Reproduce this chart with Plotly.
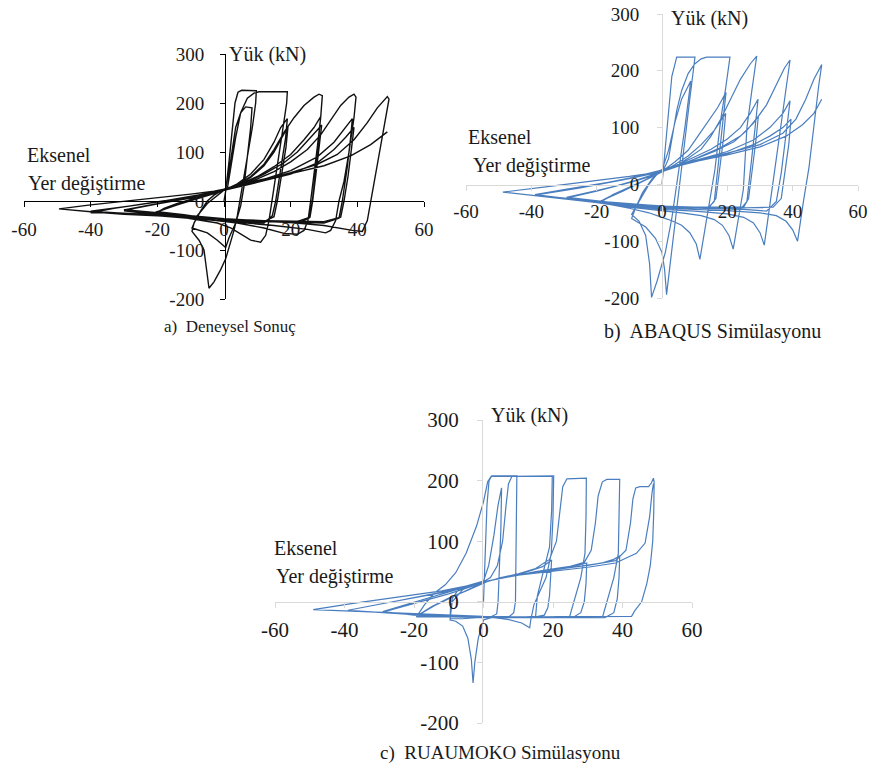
import plotly.graph_objects as go

# ---------------- data (displacement mm, load kN) ----------------
tick_x_vals = [-60, -40, -20, 0, 20, 40, 60]
tick_x_text = ["-60", "-40", "-20", "0", "20", "40", "60"]
tick_y_vals = [-200, -100, 0, 100, 200, 300]
tick_y_text = ["-200", "-100", "0", "100", "200", "300"]

# a) Experimental
exp_10 = [(0,0),(0.5,20),(1.5,80),(2.5,150),(3.3,200),(4.2,222),(5.3,226),(9.7,225),(9.5,200),(8.5,150),(7.3,100),(6,50),(4.8,0),(4,-30),(3,-60),(1.5,-95),(0.5,-118),(-1,-140),(-3,-165),(-4.5,-178),(-5.2,-140),(-6,-100),(-7.5,-80),(-9.6,-62),(-9,-45),(-7,-20),(-5,0),(-3,12),(-1,20),(0.5,26),(1.5,60),(2.5,110),(3.5,150),(5,180),(6.5,192),(8.4,190),(8,150),(7,90),(6,30),(5,-10),(3.5,-45),(1.5,-75),(0.5,-95),(-2,-80),(-5,-65),(-9.6,-55),(-8,-30),(-5,-5),(-2,12),(0,22)]
exp_20 = [(1,25),(2,70),(3.5,130),(5,180),(7,210),(9,220),(10.5,223),(19,223),(18.8,200),(17.5,140),(16,70),(14.5,0),(13.5,-40),(12.5,-70),(11,-84),(8,-80),(5,-68),(2,-55),(-2,-45),(-8,-38),(-14,-32),(-20.5,-25),(-18,-15),(-14,-5),(-10,3),(-5,12),(-1,20),(1,25),(4,35),(8,55),(12,85),(15,120),(17,150),(19,168),(18.5,130),(17,60),(15.5,0),(14.5,-30),(12,-45),(5,-42),(-5,-35),(-12,-28),(-20,-22),(-15,-10),(-8,5),(-2,18),(0,24),(4,33),(8,48),(12,72),(15,100),(17.5,130),(19.2,152),(18.6,110),(17.3,50),(16,0),(15,-32),(12,-42),(4,-40),(-6,-34),(-13,-28),(-20.5,-23),(-14,-8),(-7,6),(-2,17),(0,23)]
exp_30 = [(3,30),(8,50),(12,75),(15,105),(18,140),(21,170),(24,195),(27,212),(28.5,218),(29.5,215),(29,170),(28,110),(27,50),(26,0),(25.2,-40),(24,-60),(22,-68),(18,-66),(12,-55),(4,-45),(-5,-38),(-15,-30),(-25,-24),(-30,-20),(-25,-12),(-18,-4),(-10,6),(-4,15),(0,23),(5,35),(10,50),(15,70),(20,95),(24,125),(27,150),(29,172),(28.5,130),(27.5,60),(26.5,0),(25.5,-35),(22,-45),(10,-40),(0,-36),(-10,-30),(-20,-24),(-30,-18),(-22,-8),(-12,4),(-4,15),(0,23),(6,36),(12,55),(18,78),(22,100),(25.5,125),(28,145),(29.3,155),(28.6,110),(27.5,50),(26.6,0),(25.8,-33),(21,-44),(8,-40),(-5,-34),(-18,-25),(-30,-19),(-20,-6),(-10,6),(-3,16),(0,23)]
exp_40 = [(5,32),(10,45),(15,60),(20,80),(25,105),(29,135),(32,165),(35,195),(37.5,212),(39,218),(39.6,212),(39,170),(37.5,100),(36,40),(34.5,0),(33.5,-40),(32,-60),(30.5,-65),(25,-58),(15,-50),(5,-44),(-5,-38),(-15,-32),(-25,-27),(-35,-24),(-40,-24),(-33,-15),(-25,-7),(-15,3),(-7,12),(0,23),(10,40),(20,62),(28,90),(33,120),(36,145),(38.5,168),(38,130),(37,70),(35.5,0),(34.5,-35),(30,-45),(15,-42),(0,-37),(-15,-30),(-30,-25),(-40,-22),(-30,-12),(-18,0),(-8,12),(0,22),(10,38),(20,55),(28,78),(33,105),(36.5,130),(39,150),(38.3,110),(37.2,50),(36,0),(35,-33),(30,-42),(12,-40),(-5,-36),(-20,-29),(-40,-21),(-28,-10),(-15,3),(-6,13),(0,22)]
exp_50 = [(10,40),(20,58),(28,75),(34,95),(39,125),(43,160),(46,190),(48,206),(49,213),(49.5,208),(48.5,170),(47,110),(45.5,50),(44,0),(43,-40),(41.5,-62),(38.5,-60),(30,-50),(20,-44),(10,-41),(0,-38),(-10,-34),(-20,-30),(-30,-27),(-40,-22),(-49.5,-16),(-40,-8),(-30,-1),(-20,6),(-10,14),(-3,20),(0,24),(10,42),(20,56),(30,72),(38,92),(44,115),(49,141)]

# b) ABAQUS
abq_10 = [(0,0),(1,60),(2,130),(3,190),(4.5,224),(10.1,224),(8.5,150),(7,80),(5.5,0),(4,-70),(2.5,-140),(1.4,-194),(0.8,-150),(0,-120),(-2,-95),(-5,-75),(-9.3,-60),(-8,-40),(-6,-15),(-3,10),(0,25),(2,60),(4,110),(6,150),(8.8,182),(7,100),(5,20),(3,-60),(1,-120),(-1.5,-170),(-3.2,-199),(-3.8,-140),(-5,-90),(-7,-65),(-9.3,-53),(-7,-30),(-4,0),(-1.5,18),(0.5,26)]
abq_20 = [(2,45),(3,80),(4.5,130),(6,165),(8,195),(10,212),(12,221),(13.7,224),(20.8,224),(19.5,170),(18,115),(16.2,26),(14,-50),(11.6,-132),(10.5,-105),(8.5,-85),(6,-72),(3,-64),(0,-58),(-4,-50),(-10,-42),(-15,-36),(-19,-32),(-15,-18),(-10,-5),(-5,8),(-1,20),(1,27),(4,40),(8,60),(11,85),(14,110),(17,135),(19.6,162),(18.5,100),(17,20),(16,-30),(14,-42),(8,-42),(0,-40),(-10,-35),(-19,-30),(-14,-15),(-8,0),(-3,14),(0,22),(4,35),(8,50),(12,70),(16,95),(19.5,125),(18.8,80),(17.5,20),(16.5,-25),(14.5,-40),(5,-40),(-5,-36),(-19,-30),(-12,-12),(-5,8),(0,22)]
abq_30 = [(4,32),(8,46),(12,62),(15,85),(18,115),(21,150),(24,185),(27,212),(29,226),(27.5,165),(26,100),(24.9,-9),(23.5,-60),(21.8,-114),(20.5,-90),(18.5,-72),(16,-62),(12,-55),(6,-50),(0,-46),(-10,-40),(-20,-32),(-29.2,-23),(-20,-11),(-12,0),(-5,12),(0,25),(5,35),(10,48),(15,62),(20,80),(24,100),(27,125),(29.4,150),(28.5,100),(27,20),(26,-30),(24,-44),(15,-43),(0,-40),(-15,-34),(-29,-24),(-20,-12),(-10,3),(-3,15),(0,23),(8,40),(16,58),(22,75),(26,95),(29.5,120),(28.8,80),(27.5,20),(26.5,-25),(25,-40),(10,-40),(0,-38),(-15,-32),(-29,-23),(-18,-9),(-8,7),(0,23)]
abq_40 = [(5,32),(12,50),(18,65),(24,85),(28,108),(32,140),(35,175),(37.5,205),(39.2,219),(37.8,160),(36.2,90),(34.5,20),(33,-45),(31.3,-107),(30,-85),(28,-68),(25,-58),(20,-52),(10,-47),(0,-44),(-10,-38),(-25,-28),(-38.9,-18),(-30,-9),(-20,0),(-10,10),(-3,19),(0.5,27),(10,42),(20,58),(28,78),(33,100),(37,125),(39.2,147),(38,90),(36.5,20),(35,-30),(32,-47),(25,-44),(10,-42),(0,-40),(-20,-30),(-38.9,-19),(-25,-6),(-12,8),(-3,19),(0.5,26),(10,40),(20,54),(28,70),(33,85),(37,100),(39.5,115),(38.8,70),(37.5,15),(36.5,-25),(34,-40),(20,-42),(0,-40),(-20,-30),(-38.9,-19),(-25,-6),(-12,8),(0.5,26)]
abq_50 = [(10,42),(20,55),(30,70),(37,90),(41,115),(44,150),(46.5,185),(48,203),(48.9,211),(48,175),(46.5,100),(45,30),(43.3,-30),(41.5,-100),(40,-80),(38,-65),(35,-55),(30,-50),(20,-46),(10,-44),(0,-42),(-15,-35),(-30,-25),(-48.7,-13.6),(-35,-4),(-20,6),(-10,14),(-3,20),(0.5,26),(10,40),(20,52),(30,66),(38,85),(43,105),(46.5,125),(48.9,150)]

# c) RUAUMOKO
rua_10 = [(0,0),(0.5,80),(1.0,160),(1.6,200),(2.4,208),(9.6,208),(9.5,120),(9.4,40),(9.2,0),(8.7,-18),(7.5,-24),(3,-25),(0,-30),(-1.5,-60),(-2.5,-100),(-3,-134),(-3.5,-95),(-4.5,-60),(-6,-40),(-8,-32),(-9.6,-30),(-9.5,-10),(-9,5),(-7.5,18),(-5,26),(-2,31),(0,34),(1.5,60),(3,110),(4.2,160),(5.2,188),(5.0,120),(4.6,40),(4.2,0),(3.8,-20),(2,-25),(-2,-26),(-6,-28),(-9.6,-28),(-9,0),(-6,20),(-3,28),(0,33)]
rua_20 = [(2,40),(4,60),(5.5,100),(6.5,160),(7.2,195),(8.2,207),(20.2,208),(20,140),(19.5,80),(18,40),(16,15),(14.5,-5),(13.6,-30),(13.3,-43),(11,-35),(7,-29),(3,-26),(-2,-24),(-8,-24),(-14,-24),(-19.3,-24),(-15,-8),(-10,6),(-5,18),(-1,28),(1,33),(5,40),(10,45),(14,52),(17,58),(19.6,69),(19.4,40),(19,10),(18.5,-10),(17.5,-22),(15,-25),(8,-25),(0,-25),(-10,-25),(-19.3,-25),(-17,-5),(-14,15),(-11,28),(-8,48),(-5,80),(-2,125),(0,165),(1.2,198),(2.2,207),(19.8,207),(19.6,150),(19,90),(17,45),(15.5,10),(15,-24),(8,-26),(0,-25),(-10,-25),(-19.3,-24),(-14,-6),(-8,10),(-3,24),(1,33)]
rua_30 = [(5,40),(10,46),(15,55),(19,70),(21,100),(22,150),(22.8,190),(24,203),(29.6,204),(29.5,140),(29.2,80),(28,40),(26.5,10),(25.2,-15),(24.8,-24),(20,-25),(10,-25),(0,-25),(-10,-24),(-20,-22),(-29,-16),(-22,-4),(-15,8),(-8,20),(-3,28),(1,34),(8,42),(15,50),(22,56),(27,60),(29.7,64),(29.5,30),(29,0),(28,-18),(26,-25),(15,-26),(0,-26),(-15,-24),(-29,-17),(-20,-3),(-10,13),(-3,26),(1,34)]
rua_40 = [(8,42),(16,50),(24,57),(29,65),(31,85),(32.2,130),(33,175),(34.2,198),(35.5,202),(39.2,202),(39.1,140),(38.8,80),(37.5,40),(36,10),(34.8,-15),(34.3,-24),(25,-25),(10,-25),(-5,-24),(-20,-21),(-39,-14),(-30,-4),(-20,6),(-10,17),(-3,27),(1,34),(10,44),(20,52),(28,58),(34,64),(37.5,70),(39.2,76),(39,40),(38.5,5),(37.5,-18),(35,-26),(20,-26),(0,-25),(-20,-21),(-39,-14),(-28,-2),(-15,12),(-5,24),(1,34)]
rua_50 = [(10,45),(20,53),(30,60),(38,68),(41,85),(42.3,130),(43,170),(43.8,188),(45,190),(47.5,190),(48.3,196),(48.9,204),(49.1,198),(49,150),(48.7,100),(48,60),(47,30),(45.5,0),(43.5,-15),(42.6,-24),(30,-25),(15,-25),(0,-24),(-15,-21),(-30,-17),(-49,-13),(-38,-3),(-25,7),(-12,18),(-4,27),(1,34),(10,44),(20,51),(30,57),(38,64),(44,80),(46.5,97),(47.8,140),(48.5,180),(48.9,195)]

# ---------------- layout helpers ----------------
W, H = 869, 771
def fx(p):
    return p / W
def fy(p):
    return 1 - p / H

def path(*levels):
    xs, ys = [], []
    for lv in levels:
        for x, y in lv:
            xs.append(x)
            ys.append(y)
    return xs, ys

BLUE = "#4a7ebf"
SERIF = "Liberation Serif"

fig = go.Figure()

panels = [
    dict(key="", data=path(exp_10, exp_20, exp_30, exp_40, exp_50), color="#111111", width=1.4,
         xpx=(24, 424), ypx=(299, 54), x0px=225, y0px=201, axcol="#000000", font=19,
         ystand=12, xstand=6),
    dict(key="2", data=path(abq_10, abq_20, abq_30, abq_40, abq_50), color=BLUE, width=1.2,
         xpx=(466, 858), ypx=(298, 14), x0px=662, y0px=185, axcol="#d9d9d9", font=19,
         ystand=14, xstand=4),
    dict(key="3", data=path(rua_10, rua_20, rua_30, rua_40, rua_50), color=BLUE, width=1.2,
         xpx=(275, 692), ypx=(723, 420), x0px=482, y0px=602, axcol="#d9d9d9", font=21,
         ystand=14, xstand=4),
]

for p in panels:
    k = p["key"]
    xs, ys = p["data"]
    fig.add_trace(go.Scatter(x=xs, y=ys, mode="lines",
                             line=dict(color=p["color"], width=p["width"]),
                             xaxis="x" + k, yaxis="y" + k, hoverinfo="skip",
                             showlegend=False))
    common = dict(showgrid=False, zeroline=False, showline=True, linecolor=p["axcol"],
                  linewidth=1, ticks="outside", ticklen=5, tickcolor=p["axcol"],
                  tickfont=dict(family=SERIF, size=p["font"], color="#1a1a1a"),
                  anchor="free", fixedrange=True, automargin=False)
    fig.update_layout(**{
        "xaxis" + k: dict(common, domain=[fx(p["xpx"][0]), fx(p["xpx"][1])], range=[-60, 60],
                          tickmode="array", tickvals=tick_x_vals, ticktext=tick_x_text,
                          position=fy(p["y0px"]), ticklabelstandoff=p["xstand"]),
        "yaxis" + k: dict(common, domain=[fy(p["ypx"][0]), fy(p["ypx"][1])], range=[-200, 300],
                          tickmode="array", tickvals=tick_y_vals, ticktext=tick_y_text,
                          position=fx(p["x0px"]), ticklabelstandoff=p["ystand"]),
    })

def label(text, xpx, ypx, size, xanchor="left"):
    fig.add_annotation(text=text, x=fx(xpx), y=fy(ypx), xref="paper", yref="paper",
                       xanchor=xanchor, yanchor="middle", showarrow=False,
                       font=dict(family=SERIF, size=size, color="#1a1a1a"))

# a
label("Yük (kN)", 227, 55, 20)
label("Eksenel", 25, 155, 20)
label("Yer değiştirme", 26, 183, 20)
label("a)\u00a0 Deneysel Sonuç", 230, 326, 17, "center")
# b
label("Yük (kN)", 669, 18, 20)
label("Eksenel", 466, 137, 20)
label("Yer değiştirme", 471, 165, 20)
label("b)\u00a0 ABAQUS Simülasyonu", 712, 331, 20, "center")
# c
label("Yük (kN)", 489, 415, 20)
label("Eksenel", 272, 548, 20)
label("Yer değiştirme", 274, 576, 20)
label("c)\u00a0 RUAUMOKO Simülasyonu", 500, 753, 19, "center")

fig.update_layout(width=W, height=H, autosize=False,
                  font=dict(family=SERIF, color="#1a1a1a"),
                  margin=dict(l=0, r=0, t=0, b=0, pad=0, autoexpand=False),
                  paper_bgcolor="white", plot_bgcolor="rgba(0,0,0,0)")

fig.write_html("out.html")
